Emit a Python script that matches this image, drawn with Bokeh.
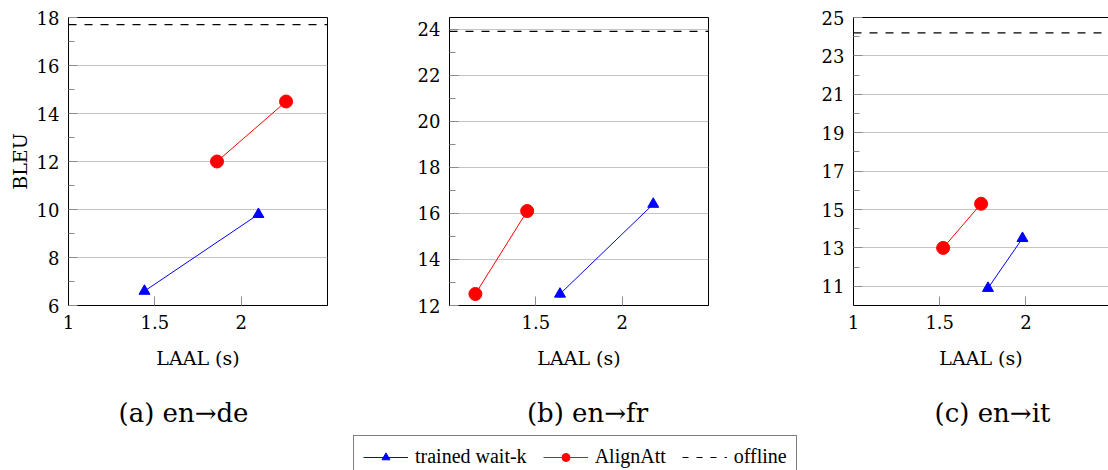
from bokeh.plotting import figure
from bokeh.layouts import row, column
from bokeh.models import (FixedTicker, Span, Legend, LegendItem, LinearAxis,
                          Range1d, Spacer)
from bokeh.core.properties import value
from bokeh.embed import file_html
from bokeh.resources import INLINE

# ---- data -------------------------------------------------------------
captions = ["(a) en→de", "(b) en→fr", "(c) en→it"]

waitk_laal = [[1.44, 2.10], [1.64, 2.18], [1.78, 1.98]]
waitk_bleu = [[6.6, 9.8], [12.5, 16.4], [10.9, 13.5]]

alignatt_laal = [[1.86, 2.26], [1.15, 1.45], [1.52, 1.74]]
alignatt_bleu = [[12.0, 14.5], [12.5, 16.1], [13.0, 15.3]]

offline_bleu = [17.7, 23.9, 24.2]

x_ticks = [[1, 1.5, 2], [1.5, 2], [1, 1.5, 2]]
y_ticks = [[6, 8, 10, 12, 14, 16, 18],
           [12, 14, 16, 18, 20, 22, 24],
           [11, 13, 15, 17, 19, 21, 23, 25]]
y_minor_ticks = [[7, 9, 11, 13, 15, 17],
                 [13, 15, 17, 19, 21, 23],
                 [12, 14, 16, 18, 20, 22, 24]]
x_limits = [(1.0, 2.5), (1.0, 2.5), (1.0, 2.479)]
y_limits = [(6, 18), (12, 24.5), (10, 25)]

# ---- layout / style ---------------------------------------------------
FONT = "'DejaVu Serif', serif"
LEGEND_FONT = "serif"
BLUE = "#0000ff"
RED = "#ff0000"
TOTAL_W = 1108
fig_widths = [390, 390, 328]
border_left = [68, 59, 73]
border_right = [63, 72, 0]
caption_centers = [183, 587, 992]   # horizontal centres of the sub-captions (px)
legend_left = 353                   # left edge of the legend box (px)


def style_axis(ax):
    ax.axis_line_color = "black"
    ax.axis_line_width = 1
    ax.major_tick_in = 9
    ax.major_tick_out = 0
    ax.minor_tick_in = 6
    ax.minor_tick_out = 0
    ax.major_tick_line_color = "#8c8c8c"
    ax.minor_tick_line_color = "#8c8c8c"
    ax.major_label_text_font = FONT
    ax.major_label_text_font_size = "18px"
    ax.major_label_text_color = "black"
    ax.major_label_standoff = 9
    ax.axis_label_text_font = FONT
    ax.axis_label_text_font_size = "19px"
    ax.axis_label_text_font_style = "normal"
    ax.axis_label_text_color = "black"


panels = []
for i in range(3):
    p = figure(width=fig_widths[i], height=380,
               x_range=Range1d(*x_limits[i]), y_range=Range1d(*y_limits[i]),
               output_backend="svg", toolbar_location=None,
               min_border_left=border_left[i], min_border_right=border_right[i],
               min_border_top=17, min_border_bottom=75,
               background_fill_color="white", border_fill_color="white")
    p.outline_line_color = "black" if i < 2 else None
    p.outline_line_width = 1

    style_axis(p.xaxis[0])
    style_axis(p.yaxis[0])
    p.xaxis.ticker = FixedTicker(ticks=x_ticks[i], minor_ticks=[])
    p.yaxis.ticker = FixedTicker(ticks=y_ticks[i], minor_ticks=y_minor_ticks[i])
    p.xaxis.axis_label = "LAAL (s)"
    p.xaxis.axis_label_standoff = 15
    if i == 0:
        p.yaxis.axis_label = "BLEU"
        p.yaxis.axis_label_standoff = 3

    if i == 2:
        top = LinearAxis(ticker=FixedTicker(ticks=[]), major_label_text_font_size="0px",
                         major_tick_in=0, major_tick_out=0, minor_tick_in=0,
                         minor_tick_out=0, axis_line_color="black", major_label_standoff=0)
        p.add_layout(top, "above")

    p.xgrid.visible = False
    p.ygrid.grid_line_color = "#c4c4c4"
    p.ygrid.grid_line_width = 1

    p.add_layout(Span(location=offline_bleu[i], dimension="width",
                      line_color="black", line_width=1.2, line_dash="8 8"))

    p.line(waitk_laal[i], waitk_bleu[i], line_color=BLUE, line_width=1)
    p.scatter(waitk_laal[i], waitk_bleu[i], marker="triangle", size=11,
              fill_color=BLUE, line_color=BLUE)
    p.line(alignatt_laal[i], alignatt_bleu[i], line_color=RED, line_width=1)
    p.scatter(alignatt_laal[i], alignatt_bleu[i], marker="circle", size=13,
              fill_color=RED, line_color=RED)
    panels.append(p)

# ---- sub-captions strip --------------------------------------------------
cf = figure(width=TOTAL_W, height=50, output_backend="svg", toolbar_location=None,
            x_range=Range1d(0, TOTAL_W), y_range=Range1d(0, 50),
            x_axis_location=None, y_axis_location=None, min_border=0,
            outline_line_color=None)
cf.grid.visible = False
cf.text(x=caption_centers, y=[18, 18, 18], text=captions,
        text_font=value(FONT), text_font_size="26px", text_color="black",
        text_align="center", text_baseline="middle")

# ---- shared legend strip --------------------------------------------------
lf = figure(width=TOTAL_W - legend_left, height=40, output_backend="svg",
            toolbar_location=None,
            x_range=Range1d(0, 1), y_range=Range1d(0, 1),
            x_axis_location=None, y_axis_location=None, min_border=0,
            min_border_top=5, outline_line_color=None)
lf.grid.visible = False
off = [-5]
lw_line = lf.line(off, off, line_color=BLUE, line_width=1)
lw_mark = lf.scatter(off, off, marker="triangle", size=11, fill_color=BLUE, line_color=BLUE)
la_line = lf.line(off, off, line_color=RED, line_width=1)
la_mark = lf.scatter(off, off, marker="circle", size=13, fill_color=RED, line_color=RED)
lo_line = lf.line(off, off, line_color="black", line_width=1.2, line_dash="6 8")

legend = Legend(items=[
    LegendItem(label="trained wait-k", renderers=[lw_line, lw_mark]),
    LegendItem(label="AlignAtt", renderers=[la_line, la_mark]),
    LegendItem(label="offline", renderers=[lo_line]),
], orientation="horizontal", location="top_left", margin=0,
    padding=9, spacing=16, glyph_width=45, glyph_height=20, label_standoff=7,
    label_text_font=LEGEND_FONT, label_text_font_size="20px", label_text_color="black",
    border_line_color="black", border_line_width=1, background_fill_alpha=1)
lf.add_layout(legend, "center")

legend_row = row(Spacer(width=legend_left, height=40), lf, spacing=0)
layout = column(row(*panels, spacing=0), cf, legend_row, spacing=0)

with open("out.html", "w") as f:
    f.write(file_html(layout, INLINE))
